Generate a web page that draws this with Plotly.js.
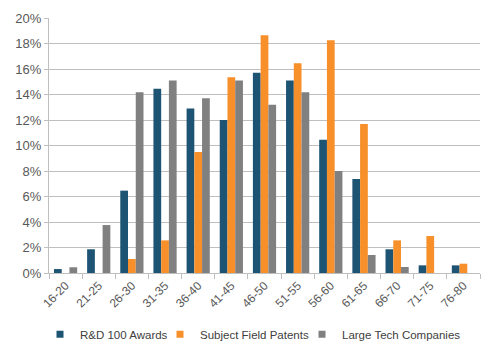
<!DOCTYPE html>
<html><head><meta charset="utf-8">
<script src="https://cdn.plot.ly/plotly-3.0.1.min.js"></script>
<style>html,body{margin:0;padding:0;background:#fff}#c{width:500px;height:351px}</style>
</head><body><div id="c"></div>
<script>
const categories = ["16-20","21-25","26-30","31-35","36-40","41-45","46-50","51-55","56-60","61-65","66-70","71-75","76-80"];
const rdAwards   = [0.31, 1.86, 6.46, 14.46, 12.9, 12.0, 15.7, 15.1, 10.46, 7.37, 1.86, 0.6, 0.6];
const patents    = [0, 0, 1.1, 2.56, 9.5, 15.35, 18.65, 16.45, 18.25, 11.69, 2.56, 2.9, 0.73];
const techCos    = [0.45, 3.76, 14.17, 15.1, 13.7, 15.1, 13.2, 14.17, 8.0, 1.41, 0.47, 0, 0];
const seriesNames = ["R&D 100 Awards", "Subject Field Patents", "Large Tech Companies"];
const yTicks = [0,2,4,6,8,10,12,14,16,18,20];

const colors = ["#1d5373", "#f7902b", "#808080"];
const legendIds = ["legend", "legend2", "legend3"];
const bars = [rdAwards, patents, techCos].map((v,i)=>({
  type:"bar", x:categories, y:v, name:seriesNames[i],
  marker:{color:colors[i]}, showlegend:false
}));
const keys = seriesNames.map((n,i)=>({
  type:"scatter", mode:"markers", x:[null], y:[null], name:n,
  marker:{symbol:"square", size:7, color:colors[i]}, legend:legendIds[i], showlegend:true
}));
const legendX = [40, 160, 302];
const legBase = {orientation:"h", xref:"container", yref:"container", xanchor:"left",
                 y:0.048, yanchor:"middle", font:{size:11.5, color:"#404040"}, itemwidth:30,
                 bgcolor:"rgba(0,0,0,0)"};
const layout = {
  width:500, height:351,
  margin:{l:49, r:20, t:18, b:78, autoexpand:false},
  paper_bgcolor:"#fff", plot_bgcolor:"#fff",
  font:{family:"Liberation Sans, Arial, sans-serif", size:12, color:"#595959"},
  barmode:"group", bargap:0.3, bargroupgap:0,
  showlegend:true,
  legend:Object.assign({}, legBase, {x:legendX[0]/500}),
  legend2:Object.assign({}, legBase, {x:legendX[1]/500}),
  legend3:Object.assign({}, legBase, {x:legendX[2]/500}),
  xaxis:{type:"category", tickangle:-45, ticks:"outside", ticklen:5, tickcolor:"#bfbfbf",
         tickson:"boundaries", showline:true, linecolor:"#bfbfbf", linewidth:1, automargin:false,
         showgrid:false, tickfont:{size:12, color:"#595959"}},
  yaxis:{range:[0,20], tickvals:yTicks, ticktext:yTicks.map(t=>t+"%"), automargin:false,
         showgrid:true, gridcolor:"#bfbfbf", gridwidth:1, showline:true, linecolor:"#bfbfbf",
         ticks:"outside", ticklen:4, tickcolor:"#bfbfbf", zeroline:false,
         tickfont:{size:13, color:"#595959"}}
};
Plotly.newPlot("c", bars.concat(keys), layout, {displayModeBar:false, staticPlot:true});
</script></body></html>
